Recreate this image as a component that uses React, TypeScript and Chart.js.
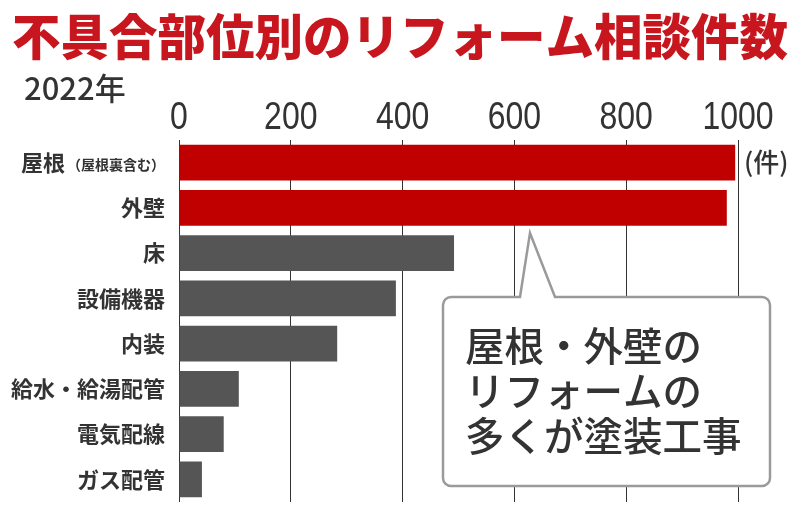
import React, { useEffect, useRef } from "react";
import { Chart, registerables } from "chart.js";

Chart.register(...registerables);

// ---- data ----
const mainLabels = ["屋根", "外壁", "床", "設備機器", "内装", "給水・給湯配管", "電気配線", "ガス配管"];
const subLabels = ["（屋根裏含む）", "", "", "", "", "", "", ""];
const counts = [995, 980, 492, 388, 283, 107, 80, 41];
const highlighted = [true, true, false, false, false, false, false, false];
const xTicks = [0, 200, 400, 600, 800, 1000];
const titleText = "不具合部位別のリフォーム相談件数";
const yearText = "2022年";
const unitText = "(件)";
const calloutLines = ["屋根・外壁の", "リフォームの", "多くが塗装工事"];

const RED = "#c00000";
const GRAY = "#555555";
const TEXT = "#333333";
const TITLE_RED = "#c8161e";
const JP = "'Noto Sans CJK JP', 'Noto Sans', sans-serif";
const LAT = "'Liberation Sans', Arial, sans-serif";

const headerPlugin = {
  id: "header",
  afterDraw(chart: any) {
    const ctx = chart.ctx;
    ctx.save();
    ctx.fillStyle = TITLE_RED;
    ctx.font = `900 48.5px ${JP}`;
    ctx.textAlign = "left";
    ctx.textBaseline = "middle";
    ctx.fillText(titleText, 12, 37);
    ctx.fillStyle = TEXT;
    ctx.font = `500 31px ${JP}`;
    ctx.fillText(yearText, 24, 88);
    ctx.restore();
  },
};

// draws the x-axis tick labels (from the scale's own ticks), horizontally condensed
const xTickPlugin = {
  id: "xTickLabels",
  afterDraw(chart: any) {
    const ctx = chart.ctx;
    const xs = chart.scales.x;
    ctx.save();
    ctx.fillStyle = TEXT;
    ctx.font = `39px ${LAT}`;
    ctx.textAlign = "center";
    ctx.textBaseline = "alphabetic";
    xs.ticks.forEach((t: any) => {
      const px = xs.getPixelForValue(t.value);
      ctx.save();
      ctx.translate(px, 129);
      ctx.scale(0.82, 1);
      ctx.fillText(String(t.value), 0, 0);
      ctx.restore();
    });
    ctx.restore();
  },
};

const yLabelPlugin = {
  id: "yLabels",
  afterDraw(chart: any) {
    const ctx = chart.ctx;
    const y = chart.scales.y;
    const right = chart.chartArea.left - 14;
    ctx.save();
    ctx.fillStyle = TEXT;
    ctx.textBaseline = "middle";
    ctx.textAlign = "right";
    mainLabels.forEach((lab, i) => {
      const py = y.getPixelForValue(i);
      let x = right;
      if (subLabels[i]) {
        ctx.font = `bold 14px ${JP}`;
        ctx.fillText(subLabels[i], x, py + 2);
        x -= ctx.measureText(subLabels[i]).width + 2;
      }
      ctx.font = `bold 22px ${JP}`;
      ctx.fillText(lab, x, py);
    });
    ctx.textAlign = "left";
    ctx.font = `500 26px ${JP}`;
    ctx.fillText(unitText, chart.chartArea.right + 6, y.getPixelForValue(0) - 1);
    ctx.restore();
  },
};

const calloutPlugin = {
  id: "callout",
  afterDraw(chart: any) {
    const ctx = chart.ctx;
    const L = 443, R = 770, T = 297, B = 486, r = 8;
    ctx.save();
    ctx.beginPath();
    ctx.moveTo(L + r, T);
    ctx.lineTo(520, T);
    ctx.lineTo(530, 233);
    ctx.lineTo(555, T);
    ctx.lineTo(R - r, T);
    ctx.arcTo(R, T, R, T + r, r);
    ctx.lineTo(R, B - r);
    ctx.arcTo(R, B, R - r, B, r);
    ctx.lineTo(L + r, B);
    ctx.arcTo(L, B, L, B - r, r);
    ctx.lineTo(L, T + r);
    ctx.arcTo(L, T, L + r, T, r);
    ctx.closePath();
    ctx.fillStyle = "#ffffff";
    ctx.fill();
    ctx.strokeStyle = "#9a9a9a";
    ctx.lineWidth = 2.5;
    ctx.stroke();
    ctx.fillStyle = TEXT;
    ctx.font = `500 39.5px ${JP}`;
    ctx.textAlign = "left";
    ctx.textBaseline = "middle";
    calloutLines.forEach((line, i) => {
      ctx.fillText(line, 465, 346 + i * 45);
    });
    ctx.restore();
  },
};

export default function App() {
  const ref = useRef<HTMLCanvasElement | null>(null);
  useEffect(() => {
    document.body.style.margin = "0";
    if (!ref.current) return;
    const chart = new Chart(ref.current, {
      type: "bar",
      data: {
        labels: mainLabels.map((m, i) => m + subLabels[i]),
        datasets: [
          {
            data: counts,
            backgroundColor: highlighted.map((h) => (h ? RED : GRAY)),
            borderWidth: 0,
            barPercentage: 0.79,
            categoryPercentage: 1,
          },
        ],
      },
      options: {
        indexAxis: "y",
        responsive: false,
        animation: false,
        layout: { padding: { left: 179, right: 62, top: 98, bottom: 15 } },
        plugins: {
          legend: { display: false },
          tooltip: { enabled: false },
          title: { display: false },
        },
        scales: {
          x: {
            position: "top",
            min: 0,
            max: 1000,
            afterBuildTicks: (s: any) => {
              s.ticks = xTicks.map((v) => ({ value: v }));
            },
            afterFit: (s: any) => {
              s.height = 42;
            },
            grid: { color: "#333333", lineWidth: 1, drawTicks: false },
            border: { display: false },
            ticks: { display: false },
          },
          y: {
            ticks: { display: false },
            grid: { display: false },
            border: { display: false },
            afterFit: (s: any) => {
              s.width = 0;
            },
          },
        },
      } as any,
      plugins: [headerPlugin, xTickPlugin, yLabelPlugin, calloutPlugin],
    });
    return () => chart.destroy();
  }, []);
  return (
    <div style={{ width: 800, height: 517 }}>
      <canvas ref={ref} width={800} height={517} />
    </div>
  );
}
